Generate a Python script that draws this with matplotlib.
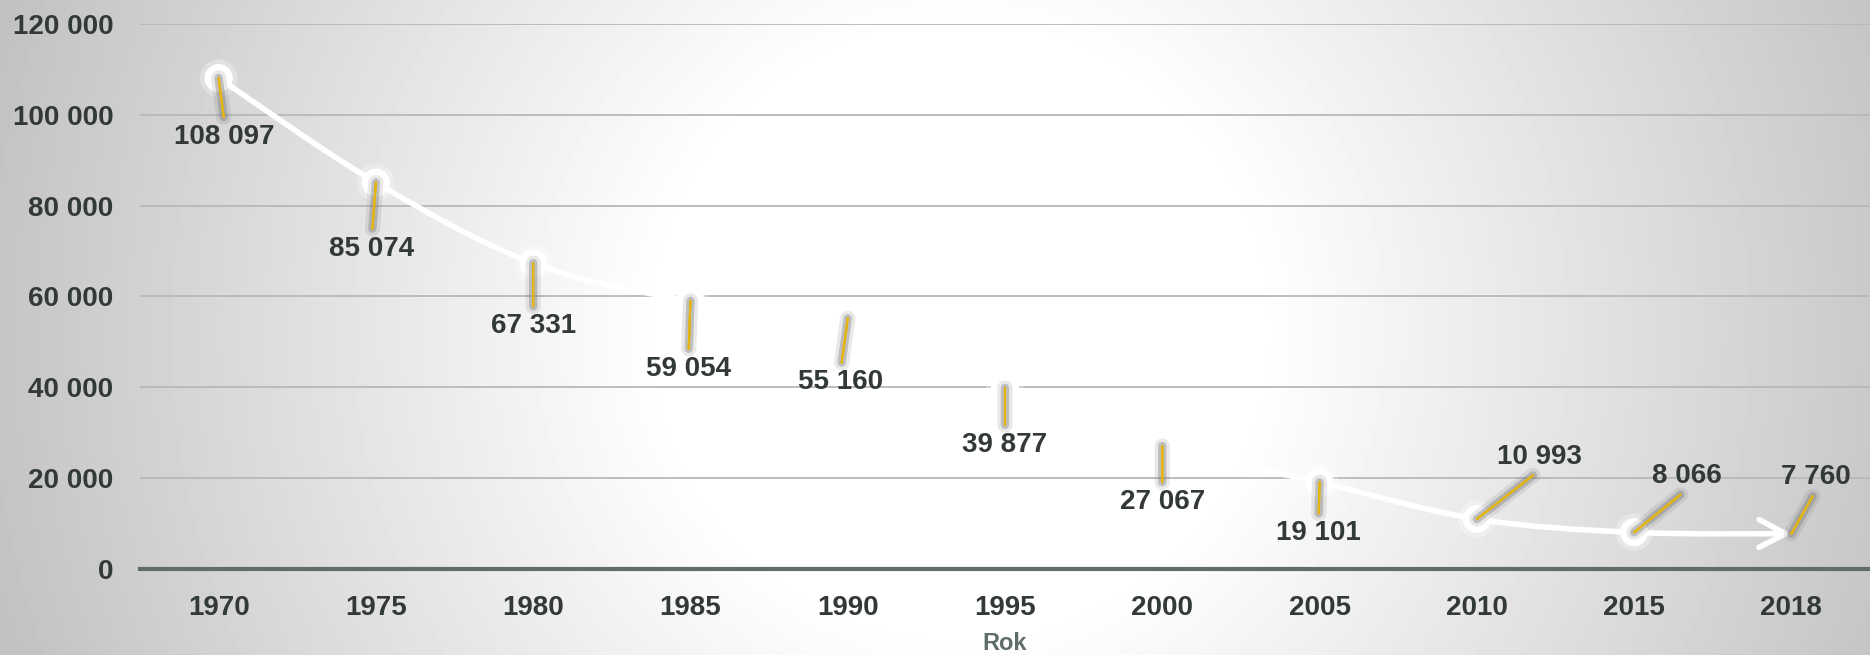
import numpy as np
import matplotlib
matplotlib.use("Agg")
import matplotlib.pyplot as plt
import matplotlib.patheffects as pe
from matplotlib.path import Path
from matplotlib.patches import FancyArrowPatch
from matplotlib.ticker import FuncFormatter, MultipleLocator

years = ["1970", "1975", "1980", "1985", "1990", "1995", "2000", "2005", "2010", "2015", "2018"]
values = [108097, 85074, 67331, 59054, 55160, 39877, 27067, 19101, 10993, 8066, 7760]

# label offsets in pixels from the point (text centre), below/above
label_offsets = [(6, -59), (-4, -66), (0, -63), (-2, -68), (-7, -64), (0, -57),
                 (0, -56), (-1, -51), (63, 62), (53, 56), (25, 57)]

plt.rcParams['font.family'] = ['Liberation Sans', 'DejaVu Sans']
txt_col = '#323936'
axis_col = '#5f6e69'


def fmt(v, pos=None):
    return f"{int(v):,}".replace(",", " ")


fig = plt.figure(figsize=(18.7, 6.55), dpi=100)

# radial grey -> white background
H, W = 655, 1870
yy, xx = np.mgrid[0:H, 0:W]
d = np.hypot(xx - 960, yy - 330)
t = np.clip((d - 300) / 700, 0, 1)
shade = 1 - 0.24 * t
bg = fig.add_axes([0, 0, 1, 1], zorder=-10)
bg.imshow(shade, cmap='gray', vmin=0, vmax=1, aspect='auto', interpolation='bilinear')
bg.axis('off')

ax = fig.add_axes([140 / 1870, 86 / 655, 1730 / 1870, 545 / 655])
ax.set_facecolor('none')
x = np.arange(len(years))
ax.set_xlim(-0.5, len(years) - 0.5)
ax.set_ylim(0, 120000)
ax.yaxis.set_major_locator(MultipleLocator(20000))
ax.yaxis.set_major_formatter(FuncFormatter(fmt))
ax.set_xticks(x)
ax.set_xticklabels(years)
ax.tick_params(length=0, labelsize=20, labelcolor=txt_col)
ax.tick_params(axis='y', pad=19)
ax.tick_params(axis='x', pad=19)
for lab in ax.get_xticklabels() + ax.get_yticklabels():
    lab.set_fontweight('bold')
ax.grid(axis='y', color='#b8b8b8', lw=1.3)
ax.set_axisbelow(True)
for s in ['top', 'right', 'left']:
    ax.spines[s].set_visible(False)
ax.spines['bottom'].set_color(axis_col)
ax.spines['bottom'].set_linewidth(3)
ax.set_xlabel("Rok", fontsize=17, fontweight='bold', color=axis_col, labelpad=8)

# smoothed line (Catmull-Rom as cubic bezier) ending with an arrow
pts = np.column_stack([x, values]).astype(float)
ext = np.vstack([pts[0], pts, pts[-1]])
verts = [pts[0]]
codes = [Path.MOVETO]
for i in range(len(pts) - 1):
    p0, p1, p2, p3 = ext[i], ext[i + 1], ext[i + 2], ext[i + 3]
    verts += [p1 + (p2 - p0) / 6, p2 - (p3 - p1) / 6, p2]
    codes += [Path.CURVE4] * 3
curve = FancyArrowPatch(path=Path(verts, codes), arrowstyle='->,head_length=0.95,head_width=0.5',
                        mutation_scale=20, color='white', lw=4, capstyle='round',
                        joinstyle='round', zorder=3)
ax.add_patch(curve)

# white markers with a soft white glow
ax.plot(x[:-1], values[:-1], 'o', ms=19, mfc='white', mec='white', zorder=4,
        path_effects=[pe.withStroke(linewidth=8, foreground='white', alpha=0.3),
                      pe.Normal()])

# data labels with leader lines
for xi, v, (dx, dy) in zip(x, values, label_offsets):
    rel = (0.5, 1.0) if dy < 0 else (0.5, 0.0)
    ax.annotate(fmt(v), xy=(xi, v), xytext=(dx, dy), textcoords='offset pixels',
                ha='center', va='center', fontsize=20, fontweight='bold', color=txt_col,
                zorder=6,
                arrowprops=dict(arrowstyle='-', color='#e5b60f', lw=1.5, shrinkA=3, shrinkB=0,
                                relpos=rel,
                                path_effects=[pe.withStroke(linewidth=11, foreground='#707070', alpha=0.15),
                                              pe.withStroke(linewidth=6, foreground='#707070', alpha=0.35),
                                              pe.Normal()]))

fig.savefig("out.png", dpi=100)
